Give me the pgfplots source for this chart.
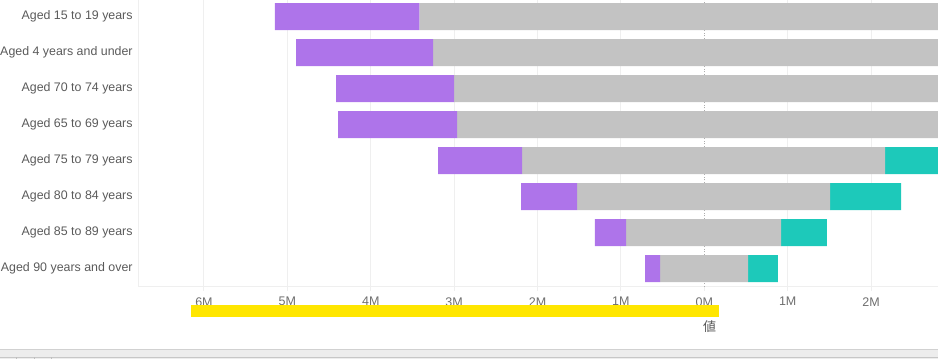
\documentclass[border=0pt]{standalone}
\usepackage{fontspec}
\setmainfont{Liberation Sans}
\newfontfamily\cjk{Noto Sans CJK JP}
\usepackage{pgfplots}
\pgfplotsset{compat=1.18}
\definecolor{cPurple}{HTML}{AE74EA}
\definecolor{cGray}{HTML}{C3C3C3}
\definecolor{cTeal}{HTML}{1DC9BA}
\definecolor{cGrid}{HTML}{EFEFEF}
\definecolor{cLab}{HTML}{5A5A5A}
\definecolor{cTick}{HTML}{6E6E6E}
\definecolor{cYellow}{HTML}{FFE600}
\begin{document}
\begin{tikzpicture}
\useasboundingbox (0,0) rectangle (938pt,359pt);
\clip (0,0) rectangle (938pt,359pt);
\begin{axis}[
 at={(138.3pt,72.3pt)}, anchor=south west,
 scale only axis, width=799.7pt, height=288pt,
 xmin=-6.787, xmax=2.802, ymin=-0.5, ymax=7.5,
 xbar stacked, stack negative=on previous, bar width=27pt,
 ytick={0,...,7},
 yticklabels={Aged 90 years and over, Aged 85 to 89 years, Aged 80 to 84 years, Aged 75 to 79 years, Aged 65 to 69 years, Aged 70 to 74 years, Aged 4 years and under, Aged 15 to 19 years},
 xtick={-6,-5,-4,-3,-2,-1,1,2},
 xticklabels={6M,5M,4M,3M,2M,1M,1M,2M},
 extra x ticks={0}, extra x tick labels={0M},
 extra x tick style={grid=none},
 axis x line*=bottom, axis y line*=left,
 axis line style={cGrid, line width=1pt, -},
 xmajorgrids, grid style={cGrid, line width=1pt},
 ytick style={draw=none},
 xtick style={cGrid, line width=1pt},
 major tick length=4pt, tick align=outside,
 yticklabel style={font=\fontsize{12.4}{14}\selectfont, text=cLab, inner sep=0pt, anchor=east, xshift=-1.5pt},
 xticklabel style={font=\fontsize{12.5}{14}\selectfont, text=cTick, inner sep=0pt, anchor=north, yshift=-6.5pt},
]
\addplot[draw=none, fill=none, forget plot] coordinates {(-5.148,7) (-4.896,6) (-4.416,5) (-4.392,4) (-3.193,3) (-2.198,2) (-1.311,1) (-0.711,0)};
\addplot[draw=none, fill=cPurple] coordinates {(1.731,7) (1.643,6) (1.415,5) (1.427,4) (1.007,3) (0.672,2) (0.372,1) (0.180,0)};
\addplot[draw=none, fill=cGray] coordinates {(6.834,7) (6.506,6) (6.002,5) (5.930,4) (4.353,3) (3.033,2) (1.859,1) (1.055,0)};
\addplot[draw=none, fill=cTeal] coordinates {(1.2,7) (1.2,6) (1.1,5) (1.1,4) (0.8,3) (0.852,2) (0.549,1) (0.357,0)};
\draw[color=black!32, line width=1pt, dash pattern=on 1pt off 1.8pt] (axis cs:0,-0.5) -- (axis cs:0,-0.375);
\foreach \k in {0,...,6} {
 \edef\tmp{\noexpand\draw[color=black!32, line width=1pt, dash pattern=on 1pt off 1.8pt] (axis cs:0,\k.375) -- (axis cs:0,\k.625);}\tmp
}
\draw[color=black!32, line width=1pt, dash pattern=on 1pt off 1.8pt] (axis cs:0,7.375) -- (axis cs:0,7.5);
\end{axis}
\fill[cYellow] (191pt,42.3pt) rectangle (718.7pt,54pt);
\node[text=black!65, font=\cjk\fontsize{13}{15}\selectfont, inner sep=0pt] at (709.5pt,32.3pt) {値};
\fill[black!7] (0,0) rectangle (938pt,9pt);
\draw[black!18, line width=1pt] (0,9pt) -- (938pt,9pt);
\draw[black!22, line width=0.8pt] (0,2pt) -- (938pt,2pt);
\foreach \xx in {16,34,51} \draw[black!25, line width=0.6pt] (\xx pt,0) -- (\xx pt,2pt);
\end{tikzpicture}
\end{document}
